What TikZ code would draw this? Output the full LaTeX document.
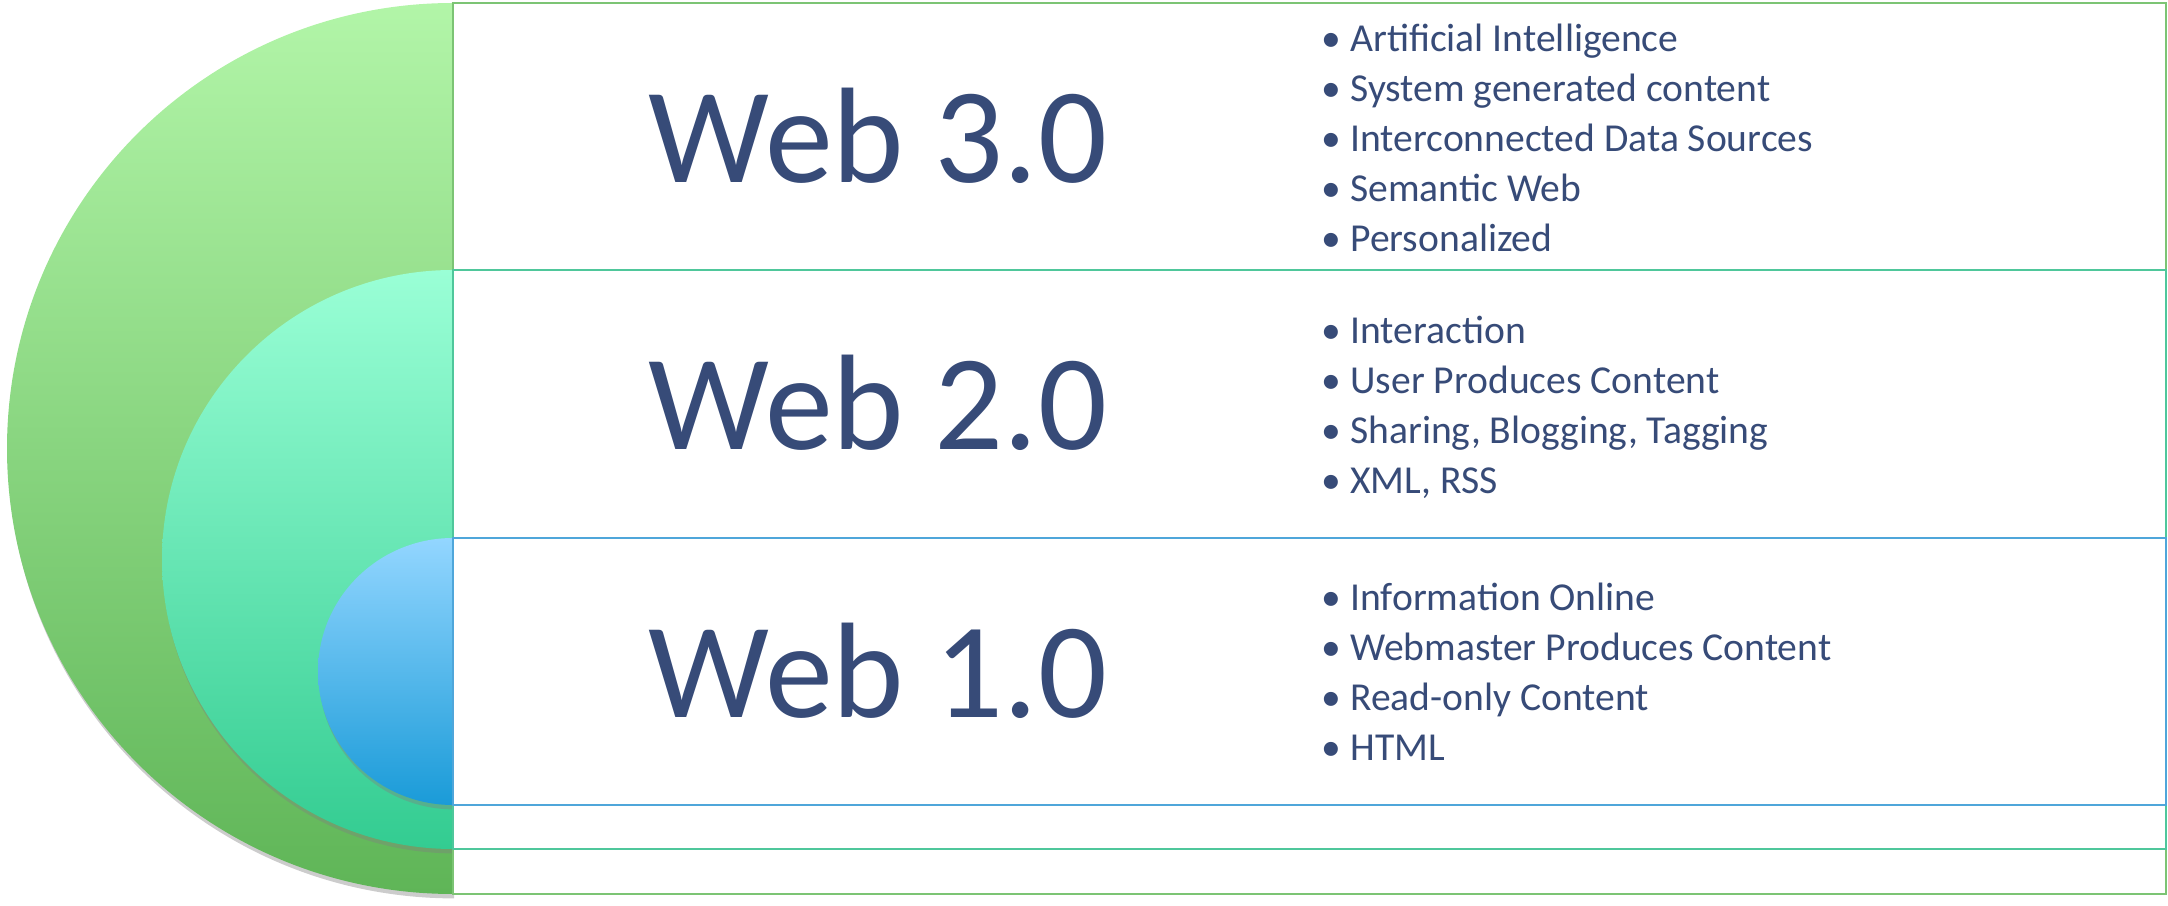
\documentclass[tikz,border=0pt]{standalone}
\usepackage{fontspec}
\setmainfont{Carlito}
\usetikzlibrary{shadows}
\definecolor{txt}{HTML}{374B78}
\definecolor{gA}{HTML}{B2F5A8}
\definecolor{gB}{HTML}{5FB557}
\definecolor{tA}{HTML}{9AFFD6}
\definecolor{tB}{HTML}{33CC91}
\definecolor{bA}{HTML}{93D6FF}
\definecolor{bB}{HTML}{1A9BD8}
\definecolor{gline}{HTML}{7CC474}
\definecolor{tline}{HTML}{4FC79B}
\definecolor{bline}{HTML}{4FA6DA}
\newcommand\bl{\llap{\makebox[0pt][c]{•}\hspace{9.5pt}}}
\begin{document}
\begin{tikzpicture}[x=0.5pt,y=0.5pt,
  disk/.style={drop shadow={shadow xshift=0.6pt,shadow yshift=-2.2pt,opacity=0.4}},
  box/.style={line width=1pt, fill=white},
  big/.style={font=\fontsize{68}{80}\selectfont, text=txt, inner sep=0, anchor=base},
  lst/.style={font=\fontsize{19.8}{25}\selectfont, text=txt, inner sep=0, anchor=base west}]
\useasboundingbox (0,0) rectangle (2168,905);
% half disks
\path[disk, top color=gA, bottom color=gB]
  (453,902) arc[start angle=90,end angle=270,x radius=223pt,y radius=222.75pt] -- cycle;
\path[disk, top color=tA, bottom color=tB]
  (453,635) arc[start angle=90,end angle=270,x radius=145.5pt,y radius=144.75pt] -- cycle;
\path[disk, top color=bA, bottom color=bB]
  (453,367) arc[start angle=90,end angle=270,x radius=67.5pt,y radius=66.75pt] -- cycle;
% boxes
\draw[box, draw=gline] (453,11) rectangle (2166,902);
\draw[box, draw=tline] (453,56) rectangle (2166,635);
\draw[box, draw=bline] (453,100) rectangle (2166,367);
% titles
\node[big] (w3) at (878,722) {Web 3.0};
\node[big] (w2) at (878,455) {Web 2.0};
\node[big] (w1) at (878,187.5) {Web 1.0};
% lists
\foreach \t [count=\i from 0] in {Artificial Intelligence, System generated content, Interconnected Data Sources, Semantic Web, Personalized}
  \node[lst] (a\i) at (1350,853.5-50*\i) {\bl\t};
\foreach \t [count=\i from 0] in {Interaction, User Produces Content, {Sharing, Blogging, Tagging}, {XML, RSS}}
  \node[lst] (b\i) at (1350,561-50*\i) {\bl\t};
\foreach \t [count=\i from 0] in {Information Online, Webmaster Produces Content, Read-only Content, HTML}
  \node[lst] (c\i) at (1350,294-50*\i) {\bl\t};
\end{tikzpicture}
\end{document}
